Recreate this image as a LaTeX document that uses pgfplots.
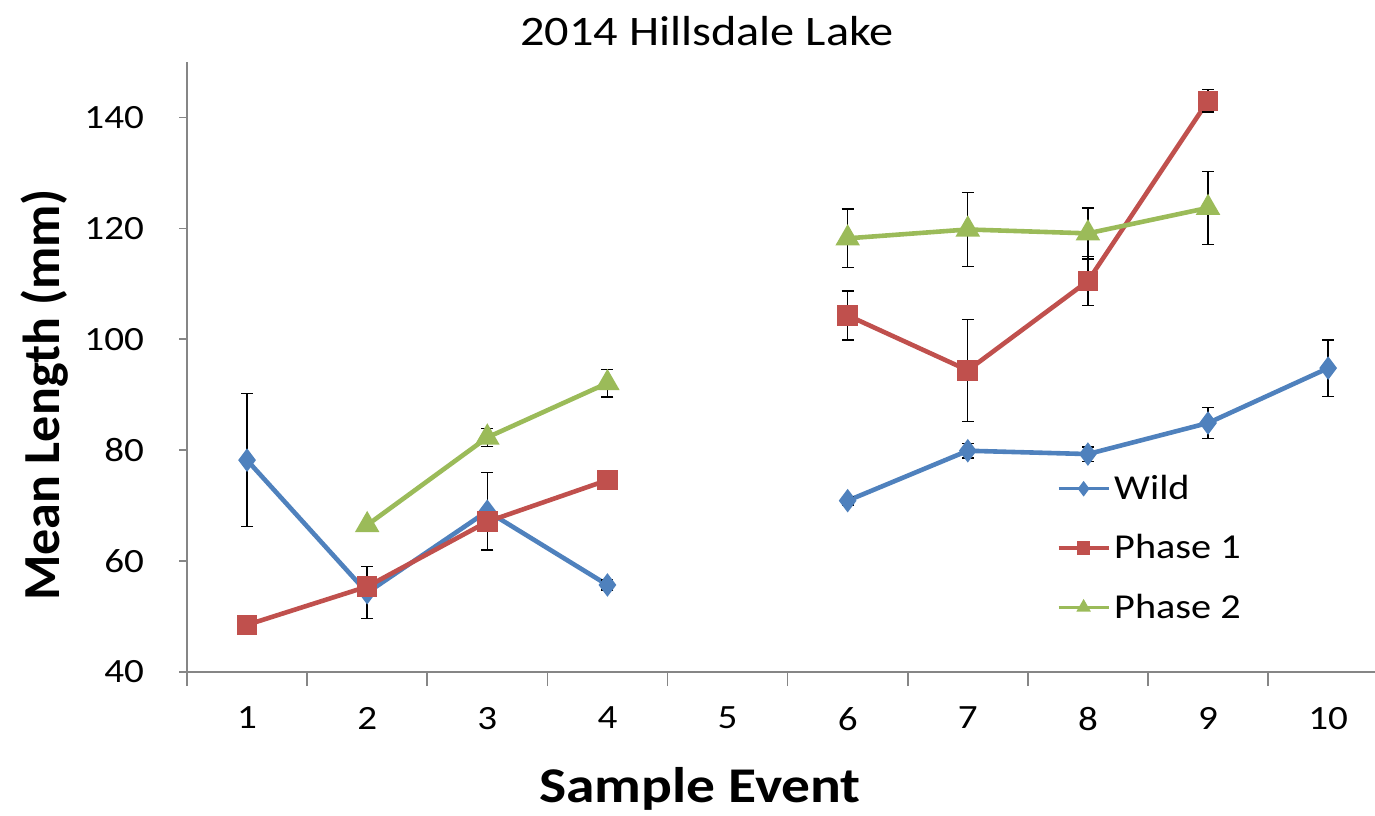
\documentclass[border=0pt]{standalone}
\usepackage{pgfplots}
\pgfplotsset{compat=1.18}
\usepackage{pgfplotstable}
\usepackage{fontspec}
\setmainfont{Carlito}[FakeStretch=1.15]
\newfontfamily\ylabfont{Carlito}

\definecolor{wild}{HTML}{4F81BD}
\definecolor{phaseone}{HTML}{C0504D}
\definecolor{phasetwo}{HTML}{9BBB59}
\definecolor{axisgray}{HTML}{868686}

% event, mean length (mm), error
\pgfplotstableread{
x y e
1 78.2 12.0
2 54.3 4.7
3 69.0 7.0
4 55.7 0.9
5 nan 0
6 70.9 0.8
7 79.9 1.3
8 79.3 1.3
9 84.9 2.8
10 94.8 5.1
}\wild
\pgfplotstableread{
x y e
1 48.5 0.0
2 55.4 0.0
3 67.1 0.0
4 74.6 1.4
5 nan 0
6 104.3 4.4
7 94.4 9.2
8 110.5 4.4
9 143.0 2.0
}\phaseone
\pgfplotstableread{
x y e
2 66.5 0.0
3 82.3 1.6
4 92.1 2.5
5 nan 0
6 118.2 5.3
7 119.8 6.7
8 119.1 4.6
9 123.7 6.6
}\phasetwo

\begin{document}
\begin{tikzpicture}
\useasboundingbox (0pt,0pt) rectangle (687.5pt,407.5pt);
\begin{axis}[
    at={(93.5pt,71.5pt)}, anchor=south west,
    scale only axis, width=594pt, height=305pt,
    xmin=0.5, xmax=10.39, ymin=40, ymax=150,
    axis lines=left,
    axis line style={-, draw=axisgray, line width=0.8pt},
    xtick={1,...,10},
    minor xtick={0.5,1.5,...,9.5},
    ytick={40,60,...,140},
    tick align=outside,
    major x tick style={draw=none},
    minor x tick style={draw=axisgray, line width=0.8pt},
    major y tick style={draw=axisgray, line width=0.8pt},
    minor tick length=7pt,
    major tick length=4pt,
    tick label style={font=\fontsize{17}{20}\selectfont},
    /pgf/number format/assume math mode=true,
    xticklabel style={yshift=-10pt},
    yticklabel style={xshift=-14pt},
    unbounded coords=jump,
    clip=false,
    legend style={draw=none, fill=none, at={(0.732,0.33)}, anchor=north west,
        font=\fontsize{17.5}{21}\selectfont, row sep=12pt,
        inner sep=0pt},
    legend cell align=left,
    legend image code/.code={\draw[#1, line width=1.6pt, mark size=2.6pt,
        mark repeat=2, mark phase=2]
        plot coordinates {(0pt,0pt) (12.5pt,0pt) (25pt,0pt)};},
    every axis plot/.append style={line width=2.3pt,
        error bars/y dir=both, error bars/y explicit,
        error bars/error bar style={black, solid, line width=0.7pt},
        error bars/error mark options={black, line width=0.7pt, mark size=3pt, rotate=90}},
]
\addplot[color=wild, mark=diamond*, mark size=4pt, mark options={fill=wild}]
    table[x=x, y=y, y error=e] {\wild};
\addplot[color=phaseone, mark=square*, mark size=4pt, mark options={fill=phaseone}]
    table[x=x, y=y, y error=e] {\phaseone};
\addplot[color=phasetwo, mark=triangle*, mark size=4.8pt, mark options={fill=phasetwo}]
    table[x=x, y=y, y error=e] {\phasetwo};
\legend{Wild, Phase 1, Phase 2}
\end{axis}
\node[font=\fontsize{21}{25}\selectfont] at (353.5pt,392pt) {2014 Hillsdale Lake};
\node[font=\fontsize{25}{30}\selectfont\bfseries] at (350pt,13pt) {Sample Event};
\node[font=\ylabfont\fontsize{26}{30}\selectfont\bfseries, rotate=90] at (22.5pt,210pt) {Mean Length (mm)};
\end{tikzpicture}
\end{document}
